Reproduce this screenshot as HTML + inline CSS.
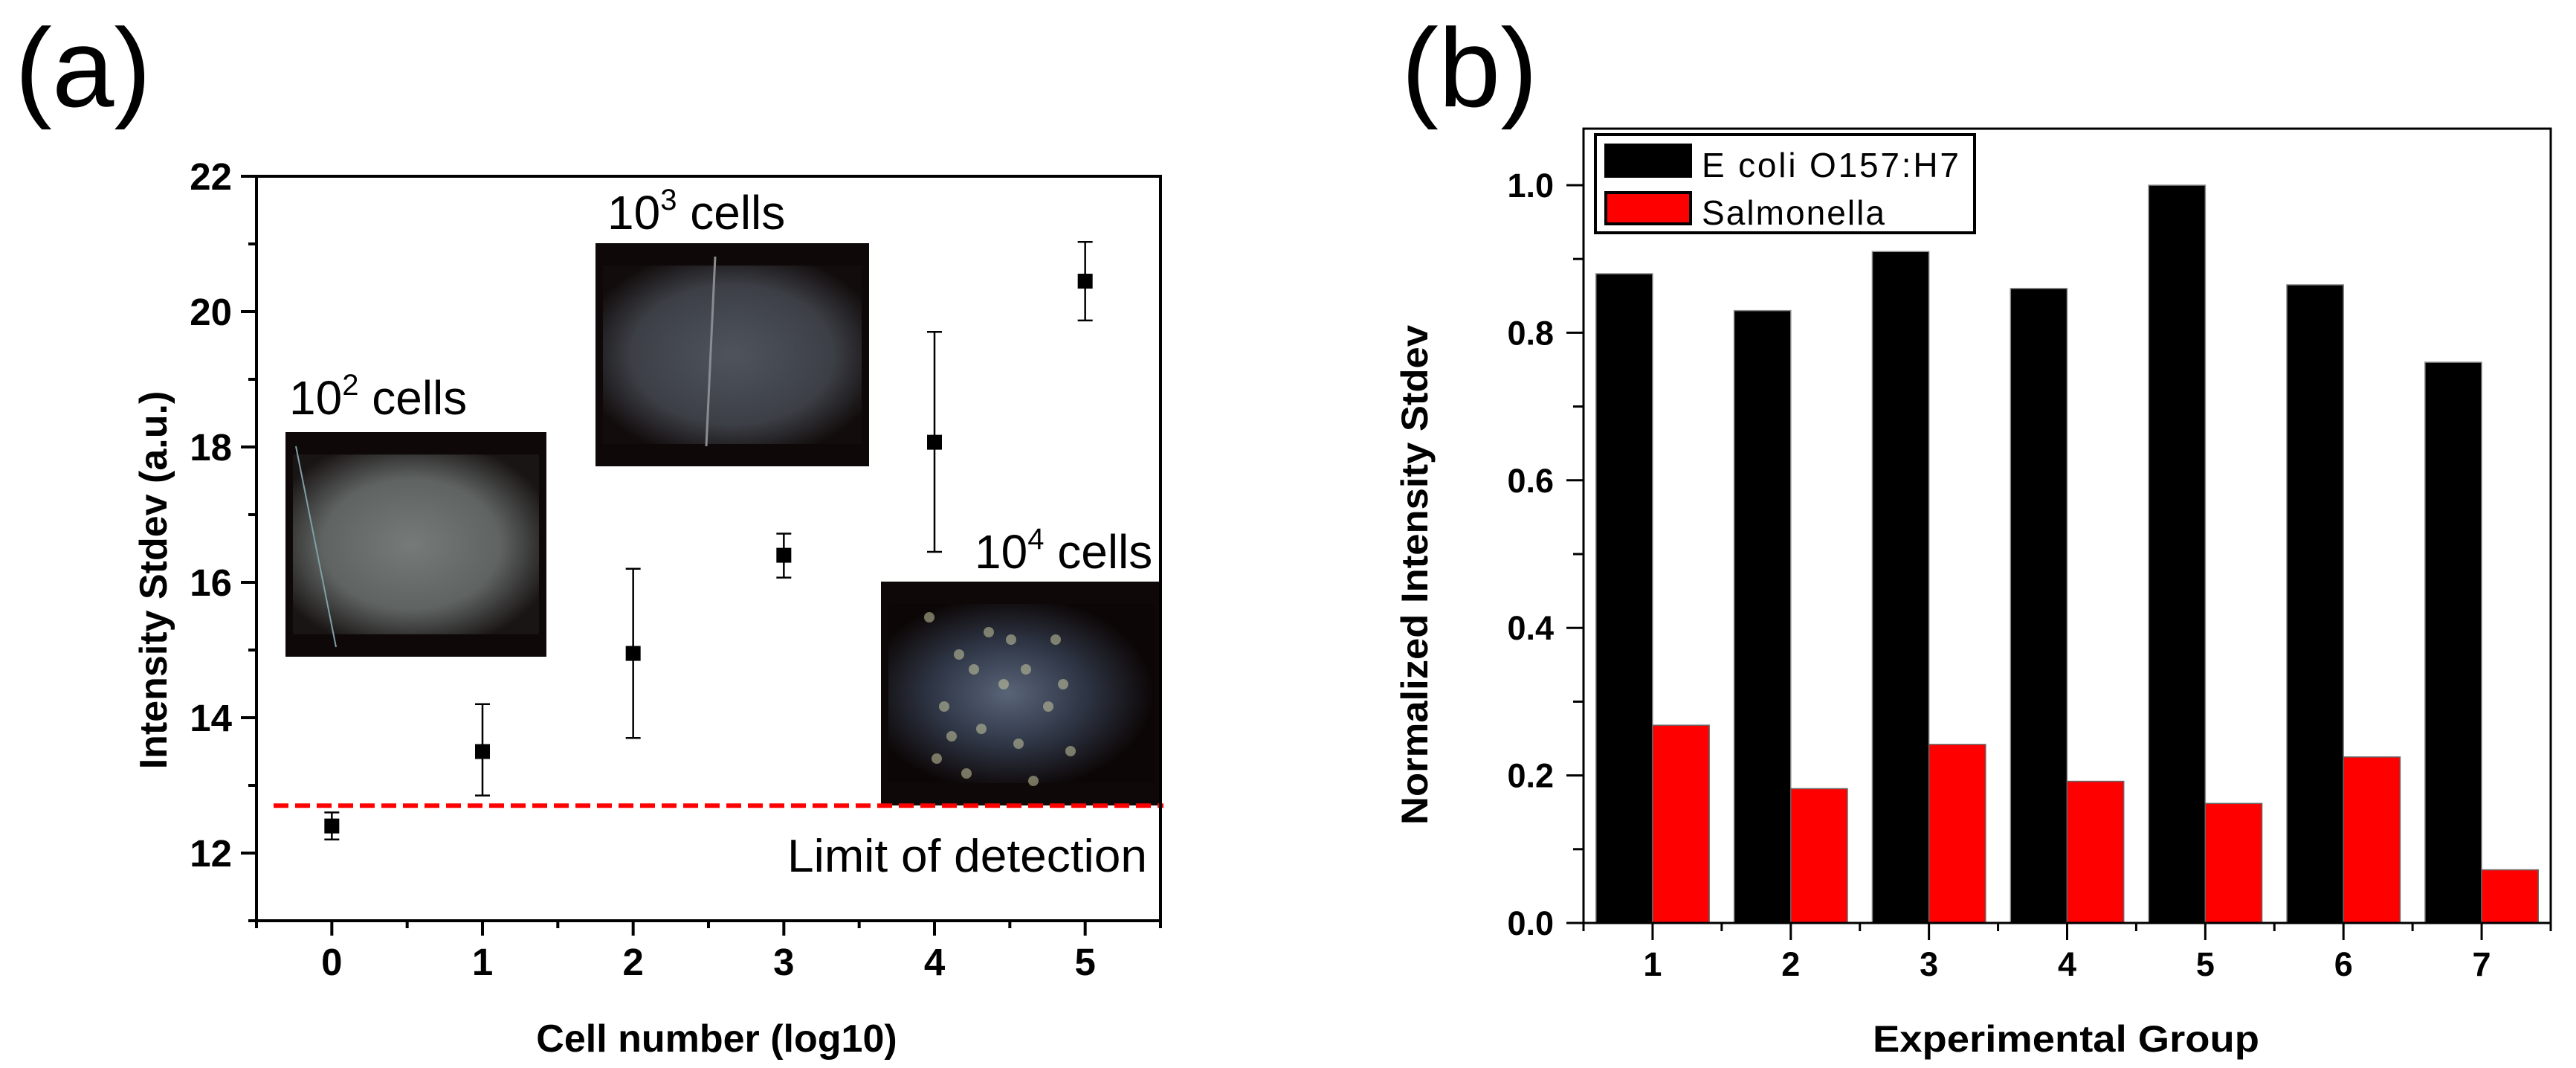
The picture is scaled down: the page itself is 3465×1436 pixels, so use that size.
<!DOCTYPE html>
<html><head><meta charset="utf-8"><style>
html,body{margin:0;padding:0;background:#fff;}
svg{display:block;}
text{font-family:"Liberation Sans",sans-serif;}
</style></head><body>
<svg id="fig" width="3465" height="1436" viewBox="0 0 3465 1436" xmlns="http://www.w3.org/2000/svg">
<defs>
<radialGradient id="g2" cx="0.48" cy="0.5" r="0.6"><stop offset="0" stop-color="#767a79"/><stop offset="0.6" stop-color="#5f6463"/><stop offset="1" stop-color="#1a1515"/></radialGradient>
<radialGradient id="g3" cx="0.5" cy="0.5" r="0.6"><stop offset="0" stop-color="#4f545c"/><stop offset="0.65" stop-color="#3c3f46"/><stop offset="1" stop-color="#120c0c"/></radialGradient>
<radialGradient id="g4" cx="0.45" cy="0.5" r="0.55"><stop offset="0" stop-color="#5a6478"/><stop offset="0.5" stop-color="#303848"/><stop offset="1" stop-color="#0c0606"/></radialGradient>
</defs>
<g id="panelA"></g>
<g id="panelB"></g>
</svg>
<script>
// Panel (a) data
const aX = [0, 1, 2, 3, 4, 5];
const aY = [12.4, 13.5, 14.95, 16.4, 18.07, 20.45];
const aLo = [12.2, 12.85, 13.7, 16.07, 16.45, 19.87];
const aHi = [12.6, 14.2, 16.2, 16.72, 19.7, 21.03];
const aYTicks = [12, 14, 16, 18, 20, 22];
const aXTicks = [0, 1, 2, 3, 4, 5];
const lodValue = 12.7;
// Panel (b) data
const bCats = [1, 2, 3, 4, 5, 6, 7];
const ecoli = [0.88, 0.83, 0.91, 0.86, 1.0, 0.865, 0.76];
const salmonella = [0.268, 0.182, 0.242, 0.192, 0.162, 0.225, 0.072];
const bYTicks = ["0.0", "0.2", "0.4", "0.6", "0.8", "1.0"];

const NS = "http://www.w3.org/2000/svg";
function mk(parent, tag, attrs, txt) {
  const e = document.createElementNS(NS, tag);
  for (const k in attrs) e.setAttribute(k, attrs[k]);
  if (txt !== undefined) e.textContent = txt;
  parent.appendChild(e);
  return e;
}

// ---------- Panel A ----------
const A = document.getElementById('panelA');
const aL = 345, aR = 1561, aT = 237, aB = 1238;
const ax = v => aL + (v + 0.5) / 6 * (aR - aL);
const ay = v => aB - (v - 11) / 11 * (aB - aT);

let t = mk(A, 'text', {x: 20, y: 143, 'font-size': 150}, '(a)');



// inset images
function inset(x, y, w, h, fill, name) {
  const g = mk(A, 'g', {});
  
  
  mk(g, 'rect', {x, y, width: w, height: h, fill: '#0e0808'});
  mk(g, 'rect', {x: x + 10, y: y + h * 0.1, width: w - 20, height: h * 0.8, fill: 'url(#' + fill + ')'});
  return g;
}
const i2 = inset(384, 581, 351, 302, 'g2', 'inset-image-10e2');
mk(i2, 'line', {x1: 398, y1: 600, x2: 452, y2: 870, stroke: '#7fa0a8', 'stroke-width': 2});
const i3 = inset(801, 327, 368, 300, 'g3', 'inset-image-10e3');
mk(i3, 'line', {x1: 962, y1: 345, x2: 950, y2: 600, stroke: '#8a8c90', 'stroke-width': 3});
const i4 = inset(1185, 782, 378, 301, 'g4', 'inset-image-10e4');
const specks = [[1250,830],[1290,880],[1330,850],[1380,900],[1420,860],[1270,950],[1320,980],[1370,1000],[1410,950],[1300,1040],[1350,920],[1440,1010],[1260,1020],[1390,1050],[1310,900],[1360,860],[1280,990],[1430,920]];
specks.forEach(p => mk(i4, 'circle', {cx: p[0], cy: p[1], r: 7, fill: '#c8c8a0', opacity: 0.55}));

// inset labels
function lab(x, y, sup, name) {
  const e = mk(A, 'text', {x, y, 'font-size': 64});
  
  
  mk(e, 'tspan', {}, '10');
  mk(e, 'tspan', {dy: -26, 'font-size': 40}, sup);
  mk(e, 'tspan', {dy: 26}, ' cells');
}
lab(389, 557, '2', 'label-10e2-cells');
lab(817, 308, '3', 'label-10e3-cells');
lab(1311, 764, '4', 'label-10e4-cells');

// LOD line
const lod = mk(A, 'line', {x1: 368, y1: ay(lodValue), x2: 1565, y2: ay(lodValue), stroke: '#ff0000', 'stroke-width': 6, 'stroke-dasharray': '20 9'});


t = mk(A, 'text', {x: 1059, y: 1172, 'font-size': 62, textLength: 484, lengthAdjust: 'spacingAndGlyphs'}, 'Limit of detection');



// axes frame
const fr = mk(A, 'rect', {x: aL, y: aT, width: aR - aL, height: aB - aT, fill: 'none', stroke: '#000', 'stroke-width': 4});


for (let v = 11; v <= 22; v++) {
  const major = v % 2 === 0;
  mk(A, 'line', {x1: aL - (major ? 21 : 11), y1: ay(v), x2: aL, y2: ay(v), stroke: '#000', 'stroke-width': 4});
}
aYTicks.forEach(v => {
  const e = mk(A, 'text', {x: 312, y: ay(v) + 18, 'font-size': 51, 'font-weight': 'bold', 'text-anchor': 'end'}, String(v));
  
  
});
for (let v = -0.5; v <= 5.5; v += 0.5) {
  const major = Math.abs(v - Math.round(v)) < 1e-6;
  mk(A, 'line', {x1: ax(v), y1: aB, x2: ax(v), y2: aB + (major ? 20 : 10), stroke: '#000', 'stroke-width': 4});
}
aXTicks.forEach(v => {
  const e = mk(A, 'text', {x: ax(v), y: 1311, 'font-size': 51, 'font-weight': 'bold', 'text-anchor': 'middle'}, String(v));
  
  
});
t = mk(A, 'text', {x: 964, y: 1414, 'font-size': 52, 'font-weight': 'bold', 'text-anchor': 'middle'}, 'Cell number (log10)');


t = mk(A, 'text', {x: 0, y: 0, 'font-size': 52, 'font-weight': 'bold', 'text-anchor': 'middle', transform: 'translate(224,780) rotate(-90)'}, 'Intensity Stdev (a.u.)');



// points + error bars
aX.forEach((xv, i) => {
  const g = mk(A, 'g', {});
  
  
  const cx = ax(xv);
  mk(g, 'line', {x1: cx, y1: ay(aLo[i]), x2: cx, y2: ay(aHi[i]), stroke: '#000', 'stroke-width': 2.5});
  mk(g, 'line', {x1: cx - 10, y1: ay(aLo[i]), x2: cx + 10, y2: ay(aLo[i]), stroke: '#000', 'stroke-width': 2.5});
  mk(g, 'line', {x1: cx - 10, y1: ay(aHi[i]), x2: cx + 10, y2: ay(aHi[i]), stroke: '#000', 'stroke-width': 2.5});
  mk(g, 'rect', {x: cx - 10, y: ay(aY[i]) - 10, width: 20, height: 20, fill: '#000'});
});

// ---------- Panel B ----------
const B = document.getElementById('panelB');
const bL = 2130, bR = 3431, bT = 173, bB = 1241;
const bx = v => bL + (v - 0.5) / 7 * (bR - bL);
const by = v => bB - v * (bB - 249);

t = mk(B, 'text', {x: 1885, y: 143, 'font-size': 150}, '(b)');



const bw = 0.41 * (bR - bL) / 7;
bCats.forEach((c, i) => {
  const r1 = mk(B, 'rect', {x: bx(c) - bw, y: by(ecoli[i]), width: bw, height: bB - by(ecoli[i]), fill: '#000', stroke: '#888', 'stroke-width': 1.5});
  
  
  const r2 = mk(B, 'rect', {x: bx(c), y: by(salmonella[i]), width: bw, height: bB - by(salmonella[i]), fill: '#ff0000', stroke: '#666', 'stroke-width': 1.5});
  
  
});

const fb = mk(B, 'rect', {x: bL, y: bT, width: bR - bL, height: bB - bT, fill: 'none', stroke: '#000', 'stroke-width': 3});


for (let k = 0; k <= 10; k++) {
  const v = k / 10, major = k % 2 === 0;
  mk(B, 'line', {x1: bL - (major ? 23 : 14), y1: by(v), x2: bL, y2: by(v), stroke: '#000', 'stroke-width': 3});
}
bYTicks.forEach(s => {
  const e = mk(B, 'text', {x: 2090, y: by(parseFloat(s)) + 16, 'font-size': 45, 'font-weight': 'bold', 'text-anchor': 'end'}, s);
  
  
});
for (let v = 0.5; v <= 7.5; v += 0.5) {
  const major = Math.abs(v - Math.round(v)) < 1e-6;
  mk(B, 'line', {x1: bx(v), y1: bB, x2: bx(v), y2: bB + (major ? 23 : 11), stroke: '#000', 'stroke-width': 3});
}
bCats.forEach(c => {
  const e = mk(B, 'text', {x: bx(c), y: 1312, 'font-size': 45, 'font-weight': 'bold', 'text-anchor': 'middle'}, String(c));
  
  
});
t = mk(B, 'text', {x: 2779, y: 1414, 'font-size': 50, 'font-weight': 'bold', 'text-anchor': 'middle', textLength: 520, lengthAdjust: 'spacingAndGlyphs'}, 'Experimental Group');


t = mk(B, 'text', {x: 0, y: 0, 'font-size': 50, 'font-weight': 'bold', 'text-anchor': 'middle', textLength: 672, lengthAdjust: 'spacingAndGlyphs', transform: 'translate(1920,773) rotate(-90)'}, 'Normalized Intensity Stdev');



// legend
const lg = mk(B, 'g', {});


mk(lg, 'rect', {x: 2146, y: 181, width: 510, height: 132, fill: '#fff', stroke: '#000', 'stroke-width': 4});
mk(lg, 'rect', {x: 2158, y: 193, width: 118, height: 46, fill: '#000'});
mk(lg, 'rect', {x: 2160, y: 259, width: 114, height: 42, fill: '#ff0000', stroke: '#000', 'stroke-width': 4});
t = mk(lg, 'text', {x: 2289, y: 238, 'font-size': 46, textLength: 346, lengthAdjust: 'spacing'}, 'E coli O157:H7');


t = mk(lg, 'text', {x: 2289, y: 302, 'font-size': 46, textLength: 246, lengthAdjust: 'spacing'}, 'Salmonella');


</script>
</body></html>
